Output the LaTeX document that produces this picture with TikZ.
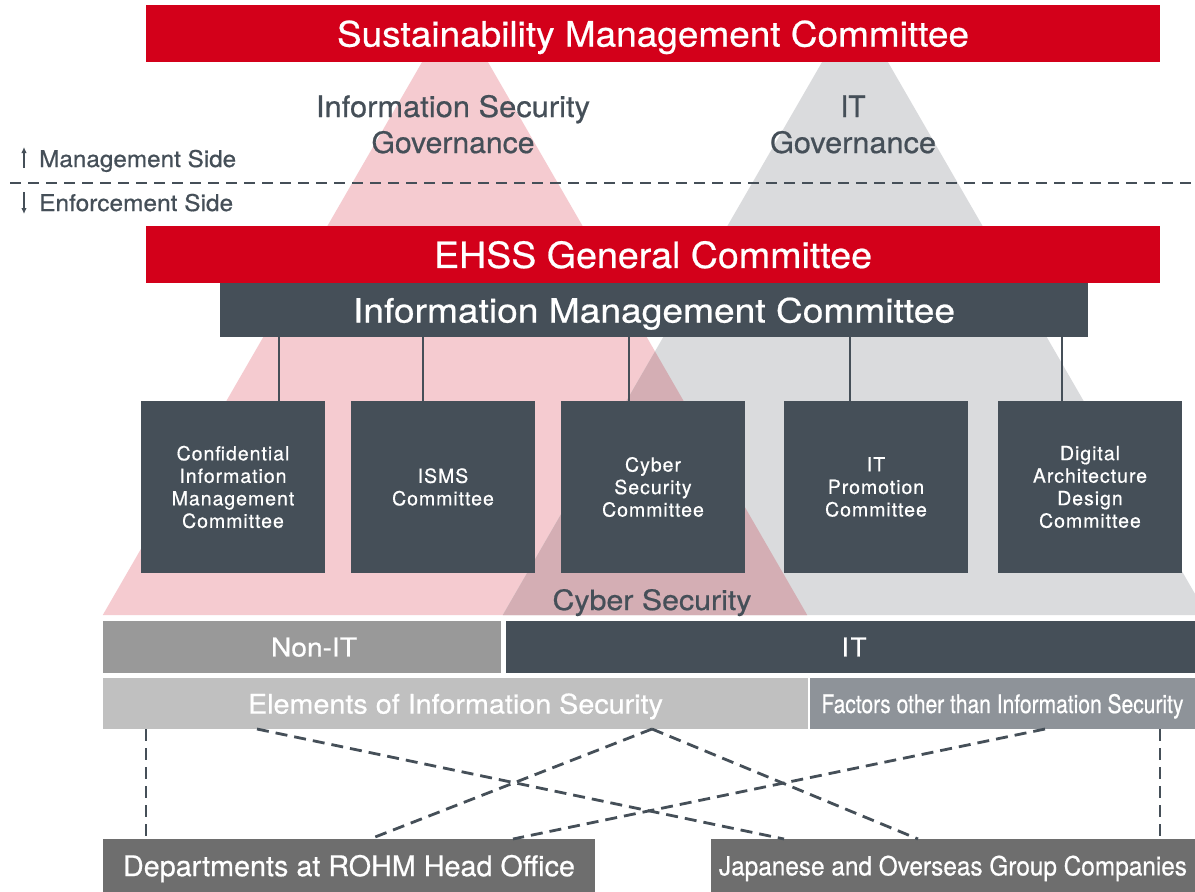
\documentclass[tikz,border=0pt]{standalone}
\usepackage{fontspec}
\setmainfont{TeX Gyre Heros}[FakeBold=0.6]
\usepackage{graphicx}
\usetikzlibrary{arrows.meta}
\definecolor{rohmred}{HTML}{D3001A}
\definecolor{slate}{HTML}{454F58}
\definecolor{pinkc}{HTML}{F5CBD0}
\definecolor{greyc}{HTML}{DADBDD}
\definecolor{overc}{HTML}{D4AEB4}
\definecolor{nonitc}{HTML}{999999}
\definecolor{elemc}{HTML}{C0C0C0}
\definecolor{factc}{HTML}{8E9399}
\definecolor{basec}{HTML}{6E6E6E}
\newcommand\fw[2]{\resizebox{#1}{\height}{#2}}
\begin{document}
\begin{tikzpicture}[x=1pt,y=-1pt,
  bar/.style={rectangle, inner sep=0pt, outer sep=0pt, text=white, text depth=0pt},
  cbox/.style={rectangle, inner sep=0pt, outer sep=0pt, fill=slate, text=white,
     minimum width=184pt, minimum height=172pt, align=center,
     font=\fontsize{19.5}{22.5}\selectfont\addfontfeature{LetterSpace=5}},
  conn/.style={draw=slate, line width=2.5pt},
  dconn/.style={draw=slate, line width=2.8pt, dash pattern=on 12pt off 7pt},
  sidearrow/.style={draw=slate, line width=1.6pt, -{Latex[length=6pt,width=5.5pt]}},
  darktext/.style={text=slate, inner sep=0pt, align=center}
]
\useasboundingbox (0,0) rectangle (1195,892);
\fill[white] (0,0) rectangle (1195,892);

% governance triangles
\fill[pinkc] (455,5) -- (807.2,615) -- (102.8,615) -- cycle;
\begin{scope}
\clip (0,0) rectangle (1195,892);
\fill[greyc] (855,5) -- (1207.2,615) -- (502.8,615) -- cycle;
\end{scope}
\fill[overc] (655,351.4) -- (807.2,615) -- (502.8,615) -- cycle;

% management / enforcement separator
\coordinate (sepL) at (10,183);
\coordinate (sepR) at (1195,183);
\draw[draw=slate, line width=2.6pt, dash pattern=on 11pt off 7pt] (sepL) -- (sepR);
\coordinate (upA) at (24,168);
\coordinate (upB) at (24,147);
\coordinate (dnA) at (24,192);
\coordinate (dnB) at (24,214);
\draw[sidearrow] (upA) -- (upB);
\draw[sidearrow] (dnA) -- (dnB);
\node[darktext, anchor=base west, font=\fontsize{23}{24}\selectfont] (mside) at (39,167) {\fw{197pt}{Management Side}};
\node[darktext, anchor=base west, font=\fontsize{23}{24}\selectfont] (eside) at (39,211) {\fw{194pt}{Enforcement Side}};

% top committee
\node[bar, fill=rohmred, minimum width=1014pt, minimum height=57pt, font=\fontsize{35}{36}\selectfont] (smc) at (653,33.5) {\fw{632pt}{Sustainability Management Committee}};

% governance labels
\node[darktext, anchor=base, font=\fontsize{29.5}{36}\selectfont] (isg1) at (453,117) {\fw{274pt}{Information Security}};
\node[darktext, anchor=base, font=\fontsize{29.5}{36}\selectfont] (isg2) at (453,153) {\fw{163pt}{Governance}};
\node[darktext, anchor=base, font=\fontsize{29.5}{36}\selectfont] (itg1) at (853,117) {\fw{25pt}{IT}};
\node[darktext, anchor=base, font=\fontsize{29.5}{36}\selectfont] (itg2) at (853,153) {\fw{166pt}{Governance}};

% EHSS and information management
\node[bar, fill=rohmred, minimum width=1014pt, minimum height=57pt, font=\fontsize{36}{36}\selectfont] (ehss) at (653,254.5) {\fw{438pt}{EHSS General Committee}};
\node[bar, fill=slate, minimum width=868pt, minimum height=54pt, font=\fontsize{33.5}{36}\selectfont] (imc) at (654,310) {\fw{602pt}{Information Management Committee}};

% committees
\node[cbox] (c1) at (233,487) {Confidential\\Information\\Management\\Committee};
\node[cbox] (c2) at (443,487) {ISMS\\Committee};
\node[cbox] (c3) at (653,487) {Cyber\\Security\\Committee};
\node[cbox] (c4) at (876,487) {IT\\Promotion\\Committee};
\node[cbox] (c5) at (1090,487) {Digital\\Architecture\\Design\\Committee};

\coordinate (k1) at (279,0);
\coordinate (k2) at (423,0);
\coordinate (k3) at (629,0);
\coordinate (k4) at (850,0);
\coordinate (k5) at (1062,0);
\draw[conn] (imc.south -| k1) -- (c1.north -| k1);
\draw[conn] (imc.south -| k2) -- (c2.north -| k2);
\draw[conn] (imc.south -| k3) -- (c3.north -| k3);
\draw[conn] (imc.south -| k4) -- (c4.north -| k4);
\draw[conn] (imc.south -| k5) -- (c5.north -| k5);

\node[darktext, anchor=base, font=\fontsize{28}{30}\selectfont] (cyber) at (652,610) {\fw{199pt}{Cyber Security}};

% IT split
\node[bar, fill=nonitc, minimum width=398pt, minimum height=52pt, font=\fontsize{26}{28}\selectfont] (nonit) at (302,647) {\hspace*{24pt}\fw{86pt}{Non-IT}};
\node[bar, fill=slate, minimum width=689pt, minimum height=52pt, font=\fontsize{26}{28}\selectfont] (it) at (850.5,647) {\hspace*{7pt}\fw{25pt}{I\kern2pt T}};

% elements
\node[bar, fill=elemc, minimum width=705pt, minimum height=51pt, font=\fontsize{27}{28}\selectfont] (elem) at (455.5,703.5) {\fw{415pt}{Elements of Information Security}};
\node[bar, fill=factc, minimum width=385pt, minimum height=51pt, font=\fontsize{25.5}{28}\selectfont] (fact) at (1002.5,703.5) {\fw{362pt}{Factors other than Information Security}};

% organisations
\node[bar, fill=basec, minimum width=492pt, minimum height=53pt, font=\fontsize{28.5}{28}\selectfont] (hq) at (349,865.5) {\fw{452pt}{Departments at ROHM Head Office}};
\node[bar, fill=basec, minimum width=484pt, minimum height=53pt, font=\fontsize{26.5}{28}\selectfont] (grp) at (953,865.5) {\fw{468pt}{Japanese and Overseas Group Companies}};

% dashed relations
\draw[dconn] ([xshift=43pt]elem.south west) -- ([xshift=43pt]hq.north west);
\draw[dconn] ([xshift=350pt]fact.south west) -- ([xshift=449pt]grp.north west);
\draw[dconn] ([xshift=154pt]elem.south west) -- ([xshift=73pt]grp.north west);
\draw[dconn] ([xshift=549pt]elem.south west) -- ([xshift=267pt]hq.north west);
\draw[dconn] ([xshift=549pt]elem.south west) -- ([xshift=207pt]grp.north west);
\draw[dconn] ([xshift=235pt]fact.south west) -- ([xshift=410pt]hq.north west);
\end{tikzpicture}
\end{document}
